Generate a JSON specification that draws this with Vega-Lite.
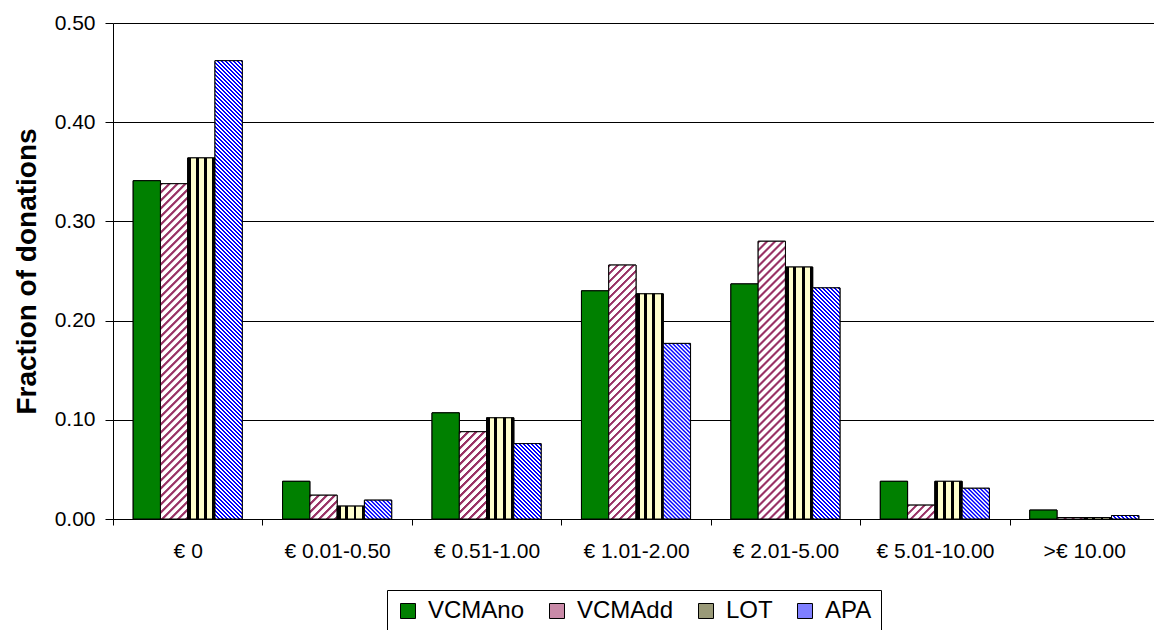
{
"$schema":"https://vega.github.io/schema/vega-lite/v6.json",
"width":1041,"height":496,
"autosize":{"type":"none"},
"padding":{"left":113,"top":23,"right":0,"bottom":111},
"background":"#ffffff",
"params":[
{"name":"lotStops","value":[{"offset":0,"color":"#000"},{"offset":0.13,"color":"#000"},{"offset":0.13,"color":"#ffc"},{"offset":0.29,"color":"#ffc"},{"offset":0.29,"color":"#000"},{"offset":0.4,"color":"#000"},{"offset":0.4,"color":"#ffc"},{"offset":0.6,"color":"#ffc"},{"offset":0.6,"color":"#000"},{"offset":0.7,"color":"#000"},{"offset":0.7,"color":"#ffc"},{"offset":0.9,"color":"#ffc"},{"offset":0.9,"color":"#000"},{"offset":1,"color":"#000"}]},
{"name":"vcmStops","value":[
{"offset":0,"color":"#936"},{"offset":0.005,"color":"#936"},{"offset":0.008,"color":"#fff"},{"offset":0.018,"color":"#fff"},
{"offset":0.02,"color":"#936"},{"offset":0.025,"color":"#936"},{"offset":0.028,"color":"#fff"},{"offset":0.038,"color":"#fff"},
{"offset":0.04,"color":"#936"},{"offset":0.045,"color":"#936"},{"offset":0.048,"color":"#fff"},{"offset":0.058,"color":"#fff"},
{"offset":0.06,"color":"#936"},{"offset":0.065,"color":"#936"},{"offset":0.068,"color":"#fff"},{"offset":0.078,"color":"#fff"},
{"offset":0.08,"color":"#936"},{"offset":0.085,"color":"#936"},{"offset":0.088,"color":"#fff"},{"offset":0.098,"color":"#fff"},
{"offset":0.1,"color":"#936"},{"offset":0.105,"color":"#936"},{"offset":0.108,"color":"#fff"},{"offset":0.118,"color":"#fff"},
{"offset":0.12,"color":"#936"},{"offset":0.125,"color":"#936"},{"offset":0.128,"color":"#fff"},{"offset":0.138,"color":"#fff"},
{"offset":0.14,"color":"#936"},{"offset":0.145,"color":"#936"},{"offset":0.148,"color":"#fff"},{"offset":0.158,"color":"#fff"},
{"offset":0.16,"color":"#936"},{"offset":0.165,"color":"#936"},{"offset":0.168,"color":"#fff"},{"offset":0.178,"color":"#fff"},
{"offset":0.18,"color":"#936"},{"offset":0.185,"color":"#936"},{"offset":0.188,"color":"#fff"},{"offset":0.198,"color":"#fff"},
{"offset":0.2,"color":"#936"},{"offset":0.205,"color":"#936"},{"offset":0.208,"color":"#fff"},{"offset":0.218,"color":"#fff"},
{"offset":0.22,"color":"#936"},{"offset":0.225,"color":"#936"},{"offset":0.228,"color":"#fff"},{"offset":0.238,"color":"#fff"},
{"offset":0.24,"color":"#936"},{"offset":0.245,"color":"#936"},{"offset":0.248,"color":"#fff"},{"offset":0.258,"color":"#fff"},
{"offset":0.26,"color":"#936"},{"offset":0.265,"color":"#936"},{"offset":0.268,"color":"#fff"},{"offset":0.278,"color":"#fff"},
{"offset":0.28,"color":"#936"},{"offset":0.285,"color":"#936"},{"offset":0.288,"color":"#fff"},{"offset":0.298,"color":"#fff"},
{"offset":0.3,"color":"#936"},{"offset":0.305,"color":"#936"},{"offset":0.308,"color":"#fff"},{"offset":0.318,"color":"#fff"},
{"offset":0.32,"color":"#936"},{"offset":0.325,"color":"#936"},{"offset":0.328,"color":"#fff"},{"offset":0.338,"color":"#fff"},
{"offset":0.34,"color":"#936"},{"offset":0.345,"color":"#936"},{"offset":0.348,"color":"#fff"},{"offset":0.358,"color":"#fff"},
{"offset":0.36,"color":"#936"},{"offset":0.365,"color":"#936"},{"offset":0.368,"color":"#fff"},{"offset":0.378,"color":"#fff"},
{"offset":0.38,"color":"#936"},{"offset":0.385,"color":"#936"},{"offset":0.388,"color":"#fff"},{"offset":0.398,"color":"#fff"},
{"offset":0.4,"color":"#936"},{"offset":0.405,"color":"#936"},{"offset":0.408,"color":"#fff"},{"offset":0.418,"color":"#fff"},
{"offset":0.42,"color":"#936"},{"offset":0.425,"color":"#936"},{"offset":0.428,"color":"#fff"},{"offset":0.438,"color":"#fff"},
{"offset":0.44,"color":"#936"},{"offset":0.445,"color":"#936"},{"offset":0.448,"color":"#fff"},{"offset":0.458,"color":"#fff"},
{"offset":0.46,"color":"#936"},{"offset":0.465,"color":"#936"},{"offset":0.468,"color":"#fff"},{"offset":0.478,"color":"#fff"},
{"offset":0.48,"color":"#936"},{"offset":0.485,"color":"#936"},{"offset":0.488,"color":"#fff"},{"offset":0.498,"color":"#fff"},
{"offset":0.5,"color":"#936"},{"offset":0.505,"color":"#936"},{"offset":0.508,"color":"#fff"},{"offset":0.518,"color":"#fff"},
{"offset":0.52,"color":"#936"},{"offset":0.525,"color":"#936"},{"offset":0.528,"color":"#fff"},{"offset":0.538,"color":"#fff"},
{"offset":0.54,"color":"#936"},{"offset":0.545,"color":"#936"},{"offset":0.548,"color":"#fff"},{"offset":0.558,"color":"#fff"},
{"offset":0.56,"color":"#936"},{"offset":0.565,"color":"#936"},{"offset":0.568,"color":"#fff"},{"offset":0.578,"color":"#fff"},
{"offset":0.58,"color":"#936"},{"offset":0.585,"color":"#936"},{"offset":0.588,"color":"#fff"},{"offset":0.598,"color":"#fff"},
{"offset":0.6,"color":"#936"},{"offset":0.605,"color":"#936"},{"offset":0.608,"color":"#fff"},{"offset":0.618,"color":"#fff"},
{"offset":0.62,"color":"#936"},{"offset":0.625,"color":"#936"},{"offset":0.628,"color":"#fff"},{"offset":0.638,"color":"#fff"},
{"offset":0.64,"color":"#936"},{"offset":0.645,"color":"#936"},{"offset":0.648,"color":"#fff"},{"offset":0.658,"color":"#fff"},
{"offset":0.66,"color":"#936"},{"offset":0.665,"color":"#936"},{"offset":0.668,"color":"#fff"},{"offset":0.678,"color":"#fff"},
{"offset":0.68,"color":"#936"},{"offset":0.685,"color":"#936"},{"offset":0.688,"color":"#fff"},{"offset":0.698,"color":"#fff"},
{"offset":0.7,"color":"#936"},{"offset":0.705,"color":"#936"},{"offset":0.708,"color":"#fff"},{"offset":0.718,"color":"#fff"},
{"offset":0.72,"color":"#936"},{"offset":0.725,"color":"#936"},{"offset":0.728,"color":"#fff"},{"offset":0.738,"color":"#fff"},
{"offset":0.74,"color":"#936"},{"offset":0.745,"color":"#936"},{"offset":0.748,"color":"#fff"},{"offset":0.758,"color":"#fff"},
{"offset":0.76,"color":"#936"},{"offset":0.765,"color":"#936"},{"offset":0.768,"color":"#fff"},{"offset":0.778,"color":"#fff"},
{"offset":0.78,"color":"#936"},{"offset":0.785,"color":"#936"},{"offset":0.788,"color":"#fff"},{"offset":0.798,"color":"#fff"},
{"offset":0.8,"color":"#936"},{"offset":0.805,"color":"#936"},{"offset":0.808,"color":"#fff"},{"offset":0.818,"color":"#fff"},
{"offset":0.82,"color":"#936"},{"offset":0.825,"color":"#936"},{"offset":0.828,"color":"#fff"},{"offset":0.838,"color":"#fff"},
{"offset":0.84,"color":"#936"},{"offset":0.845,"color":"#936"},{"offset":0.848,"color":"#fff"},{"offset":0.858,"color":"#fff"},
{"offset":0.86,"color":"#936"},{"offset":0.865,"color":"#936"},{"offset":0.868,"color":"#fff"},{"offset":0.878,"color":"#fff"},
{"offset":0.88,"color":"#936"},{"offset":0.885,"color":"#936"},{"offset":0.888,"color":"#fff"},{"offset":0.898,"color":"#fff"},
{"offset":0.9,"color":"#936"},{"offset":0.905,"color":"#936"},{"offset":0.908,"color":"#fff"},{"offset":0.918,"color":"#fff"},
{"offset":0.92,"color":"#936"},{"offset":0.925,"color":"#936"},{"offset":0.928,"color":"#fff"},{"offset":0.938,"color":"#fff"},
{"offset":0.94,"color":"#936"}
]},
{"name":"apaStops","value":[
{"offset":0,"color":"#00f"},{"offset":0.003,"color":"#00f"},{"offset":0.004,"color":"#fff"},{"offset":0.007,"color":"#fff"},{"offset":0.008,"color":"#00f"},{"offset":0.011,"color":"#00f"},{"offset":0.012,"color":"#fff"},{"offset":0.015,"color":"#fff"},{"offset":0.016,"color":"#00f"},{"offset":0.019,"color":"#00f"},{"offset":0.02,"color":"#fff"},{"offset":0.023,"color":"#fff"},{"offset":0.024,"color":"#00f"},{"offset":0.027,"color":"#00f"},{"offset":0.028,"color":"#fff"},{"offset":0.031,"color":"#fff"},{"offset":0.032,"color":"#00f"},{"offset":0.035,"color":"#00f"},{"offset":0.036,"color":"#fff"},{"offset":0.039,"color":"#fff"},
{"offset":0.04,"color":"#00f"},{"offset":0.043,"color":"#00f"},{"offset":0.044,"color":"#fff"},{"offset":0.047,"color":"#fff"},{"offset":0.048,"color":"#00f"},{"offset":0.051,"color":"#00f"},{"offset":0.052,"color":"#fff"},{"offset":0.055,"color":"#fff"},{"offset":0.056,"color":"#00f"},{"offset":0.059,"color":"#00f"},{"offset":0.06,"color":"#fff"},{"offset":0.063,"color":"#fff"},{"offset":0.064,"color":"#00f"},{"offset":0.067,"color":"#00f"},{"offset":0.068,"color":"#fff"},{"offset":0.071,"color":"#fff"},{"offset":0.072,"color":"#00f"},{"offset":0.075,"color":"#00f"},{"offset":0.076,"color":"#fff"},{"offset":0.079,"color":"#fff"},
{"offset":0.08,"color":"#00f"},{"offset":0.083,"color":"#00f"},{"offset":0.084,"color":"#fff"},{"offset":0.087,"color":"#fff"},{"offset":0.088,"color":"#00f"},{"offset":0.091,"color":"#00f"},{"offset":0.092,"color":"#fff"},{"offset":0.095,"color":"#fff"},{"offset":0.096,"color":"#00f"},{"offset":0.099,"color":"#00f"},{"offset":0.1,"color":"#fff"},{"offset":0.103,"color":"#fff"},{"offset":0.104,"color":"#00f"},{"offset":0.107,"color":"#00f"},{"offset":0.108,"color":"#fff"},{"offset":0.111,"color":"#fff"},{"offset":0.112,"color":"#00f"},{"offset":0.115,"color":"#00f"},{"offset":0.116,"color":"#fff"},{"offset":0.119,"color":"#fff"},
{"offset":0.12,"color":"#00f"},{"offset":0.123,"color":"#00f"},{"offset":0.124,"color":"#fff"},{"offset":0.127,"color":"#fff"},{"offset":0.128,"color":"#00f"},{"offset":0.131,"color":"#00f"},{"offset":0.132,"color":"#fff"},{"offset":0.135,"color":"#fff"},{"offset":0.136,"color":"#00f"},{"offset":0.139,"color":"#00f"},{"offset":0.14,"color":"#fff"},{"offset":0.143,"color":"#fff"},{"offset":0.144,"color":"#00f"},{"offset":0.147,"color":"#00f"},{"offset":0.148,"color":"#fff"},{"offset":0.151,"color":"#fff"},{"offset":0.152,"color":"#00f"},{"offset":0.155,"color":"#00f"},{"offset":0.156,"color":"#fff"},{"offset":0.159,"color":"#fff"},
{"offset":0.16,"color":"#00f"},{"offset":0.163,"color":"#00f"},{"offset":0.164,"color":"#fff"},{"offset":0.167,"color":"#fff"},{"offset":0.168,"color":"#00f"},{"offset":0.171,"color":"#00f"},{"offset":0.172,"color":"#fff"},{"offset":0.175,"color":"#fff"},{"offset":0.176,"color":"#00f"},{"offset":0.179,"color":"#00f"},{"offset":0.18,"color":"#fff"},{"offset":0.183,"color":"#fff"},{"offset":0.184,"color":"#00f"},{"offset":0.187,"color":"#00f"},{"offset":0.188,"color":"#fff"},{"offset":0.191,"color":"#fff"},{"offset":0.192,"color":"#00f"},{"offset":0.195,"color":"#00f"},{"offset":0.196,"color":"#fff"},{"offset":0.199,"color":"#fff"},
{"offset":0.2,"color":"#00f"},{"offset":0.203,"color":"#00f"},{"offset":0.204,"color":"#fff"},{"offset":0.207,"color":"#fff"},{"offset":0.208,"color":"#00f"},{"offset":0.211,"color":"#00f"},{"offset":0.212,"color":"#fff"},{"offset":0.215,"color":"#fff"},{"offset":0.216,"color":"#00f"},{"offset":0.219,"color":"#00f"},{"offset":0.22,"color":"#fff"},{"offset":0.223,"color":"#fff"},{"offset":0.224,"color":"#00f"},{"offset":0.227,"color":"#00f"},{"offset":0.228,"color":"#fff"},{"offset":0.231,"color":"#fff"},{"offset":0.232,"color":"#00f"},{"offset":0.235,"color":"#00f"},{"offset":0.236,"color":"#fff"},{"offset":0.239,"color":"#fff"},
{"offset":0.24,"color":"#00f"},{"offset":0.243,"color":"#00f"},{"offset":0.244,"color":"#fff"},{"offset":0.247,"color":"#fff"},{"offset":0.248,"color":"#00f"},{"offset":0.251,"color":"#00f"},{"offset":0.252,"color":"#fff"},{"offset":0.255,"color":"#fff"},{"offset":0.256,"color":"#00f"},{"offset":0.259,"color":"#00f"},{"offset":0.26,"color":"#fff"},{"offset":0.263,"color":"#fff"},{"offset":0.264,"color":"#00f"},{"offset":0.267,"color":"#00f"},{"offset":0.268,"color":"#fff"},{"offset":0.271,"color":"#fff"},{"offset":0.272,"color":"#00f"},{"offset":0.275,"color":"#00f"},{"offset":0.276,"color":"#fff"},{"offset":0.279,"color":"#fff"},
{"offset":0.28,"color":"#00f"},{"offset":0.283,"color":"#00f"},{"offset":0.284,"color":"#fff"},{"offset":0.287,"color":"#fff"},{"offset":0.288,"color":"#00f"},{"offset":0.291,"color":"#00f"},{"offset":0.292,"color":"#fff"},{"offset":0.295,"color":"#fff"},{"offset":0.296,"color":"#00f"},{"offset":0.299,"color":"#00f"},{"offset":0.3,"color":"#fff"},{"offset":0.303,"color":"#fff"},{"offset":0.304,"color":"#00f"},{"offset":0.307,"color":"#00f"},{"offset":0.308,"color":"#fff"},{"offset":0.311,"color":"#fff"},{"offset":0.312,"color":"#00f"},{"offset":0.315,"color":"#00f"},{"offset":0.316,"color":"#fff"},{"offset":0.319,"color":"#fff"},
{"offset":0.32,"color":"#00f"},{"offset":0.323,"color":"#00f"},{"offset":0.324,"color":"#fff"},{"offset":0.327,"color":"#fff"},{"offset":0.328,"color":"#00f"},{"offset":0.331,"color":"#00f"},{"offset":0.332,"color":"#fff"},{"offset":0.335,"color":"#fff"},{"offset":0.336,"color":"#00f"},{"offset":0.339,"color":"#00f"},{"offset":0.34,"color":"#fff"},{"offset":0.343,"color":"#fff"},{"offset":0.344,"color":"#00f"},{"offset":0.347,"color":"#00f"},{"offset":0.348,"color":"#fff"},{"offset":0.351,"color":"#fff"},{"offset":0.352,"color":"#00f"},{"offset":0.355,"color":"#00f"},{"offset":0.356,"color":"#fff"},{"offset":0.359,"color":"#fff"},
{"offset":0.36,"color":"#00f"},{"offset":0.363,"color":"#00f"},{"offset":0.364,"color":"#fff"},{"offset":0.367,"color":"#fff"},{"offset":0.368,"color":"#00f"},{"offset":0.371,"color":"#00f"},{"offset":0.372,"color":"#fff"},{"offset":0.375,"color":"#fff"},{"offset":0.376,"color":"#00f"},{"offset":0.379,"color":"#00f"},{"offset":0.38,"color":"#fff"},{"offset":0.383,"color":"#fff"},{"offset":0.384,"color":"#00f"},{"offset":0.387,"color":"#00f"},{"offset":0.388,"color":"#fff"},{"offset":0.391,"color":"#fff"},{"offset":0.392,"color":"#00f"},{"offset":0.395,"color":"#00f"},{"offset":0.396,"color":"#fff"},{"offset":0.399,"color":"#fff"},
{"offset":0.4,"color":"#00f"},{"offset":0.403,"color":"#00f"},{"offset":0.404,"color":"#fff"},{"offset":0.407,"color":"#fff"},{"offset":0.408,"color":"#00f"},{"offset":0.411,"color":"#00f"},{"offset":0.412,"color":"#fff"},{"offset":0.415,"color":"#fff"},{"offset":0.416,"color":"#00f"},{"offset":0.419,"color":"#00f"},{"offset":0.42,"color":"#fff"},{"offset":0.423,"color":"#fff"},{"offset":0.424,"color":"#00f"},{"offset":0.427,"color":"#00f"},{"offset":0.428,"color":"#fff"},{"offset":0.431,"color":"#fff"},{"offset":0.432,"color":"#00f"},{"offset":0.435,"color":"#00f"},{"offset":0.436,"color":"#fff"},{"offset":0.439,"color":"#fff"},
{"offset":0.44,"color":"#00f"},{"offset":0.443,"color":"#00f"},{"offset":0.444,"color":"#fff"},{"offset":0.447,"color":"#fff"},{"offset":0.448,"color":"#00f"},{"offset":0.451,"color":"#00f"},{"offset":0.452,"color":"#fff"},{"offset":0.455,"color":"#fff"},{"offset":0.456,"color":"#00f"},{"offset":0.459,"color":"#00f"},{"offset":0.46,"color":"#fff"},{"offset":0.463,"color":"#fff"},{"offset":0.464,"color":"#00f"},{"offset":0.467,"color":"#00f"},{"offset":0.468,"color":"#fff"},{"offset":0.471,"color":"#fff"},{"offset":0.472,"color":"#00f"},{"offset":0.475,"color":"#00f"},{"offset":0.476,"color":"#fff"},{"offset":0.479,"color":"#fff"},
{"offset":0.48,"color":"#00f"},{"offset":0.483,"color":"#00f"},{"offset":0.484,"color":"#fff"},{"offset":0.487,"color":"#fff"},{"offset":0.488,"color":"#00f"},{"offset":0.491,"color":"#00f"},{"offset":0.492,"color":"#fff"},{"offset":0.495,"color":"#fff"},{"offset":0.496,"color":"#00f"},{"offset":0.499,"color":"#00f"},{"offset":0.5,"color":"#fff"},{"offset":0.503,"color":"#fff"},{"offset":0.504,"color":"#00f"},{"offset":0.507,"color":"#00f"},{"offset":0.508,"color":"#fff"},{"offset":0.511,"color":"#fff"},{"offset":0.512,"color":"#00f"},{"offset":0.515,"color":"#00f"},{"offset":0.516,"color":"#fff"},{"offset":0.519,"color":"#fff"},
{"offset":0.52,"color":"#00f"},{"offset":0.523,"color":"#00f"},{"offset":0.524,"color":"#fff"},{"offset":0.527,"color":"#fff"},{"offset":0.528,"color":"#00f"},{"offset":0.531,"color":"#00f"},{"offset":0.532,"color":"#fff"},{"offset":0.535,"color":"#fff"},{"offset":0.536,"color":"#00f"},{"offset":0.539,"color":"#00f"},{"offset":0.54,"color":"#fff"},{"offset":0.543,"color":"#fff"},{"offset":0.544,"color":"#00f"},{"offset":0.547,"color":"#00f"},{"offset":0.548,"color":"#fff"},{"offset":0.551,"color":"#fff"},{"offset":0.552,"color":"#00f"},{"offset":0.555,"color":"#00f"},{"offset":0.556,"color":"#fff"},{"offset":0.559,"color":"#fff"},
{"offset":0.56,"color":"#00f"},{"offset":0.563,"color":"#00f"},{"offset":0.564,"color":"#fff"},{"offset":0.567,"color":"#fff"},{"offset":0.568,"color":"#00f"},{"offset":0.571,"color":"#00f"},{"offset":0.572,"color":"#fff"},{"offset":0.575,"color":"#fff"},{"offset":0.576,"color":"#00f"},{"offset":0.579,"color":"#00f"},{"offset":0.58,"color":"#fff"},{"offset":0.583,"color":"#fff"},{"offset":0.584,"color":"#00f"},{"offset":0.587,"color":"#00f"},{"offset":0.588,"color":"#fff"},{"offset":0.591,"color":"#fff"},{"offset":0.592,"color":"#00f"},{"offset":0.595,"color":"#00f"},{"offset":0.596,"color":"#fff"},{"offset":0.599,"color":"#fff"},
{"offset":0.6,"color":"#00f"},{"offset":0.603,"color":"#00f"},{"offset":0.604,"color":"#fff"},{"offset":0.607,"color":"#fff"},{"offset":0.608,"color":"#00f"},{"offset":0.611,"color":"#00f"},{"offset":0.612,"color":"#fff"},{"offset":0.615,"color":"#fff"},{"offset":0.616,"color":"#00f"},{"offset":0.619,"color":"#00f"},{"offset":0.62,"color":"#fff"},{"offset":0.623,"color":"#fff"},{"offset":0.624,"color":"#00f"},{"offset":0.627,"color":"#00f"},{"offset":0.628,"color":"#fff"},{"offset":0.631,"color":"#fff"},{"offset":0.632,"color":"#00f"},{"offset":0.635,"color":"#00f"},{"offset":0.636,"color":"#fff"},{"offset":0.639,"color":"#fff"},
{"offset":0.64,"color":"#00f"},{"offset":0.643,"color":"#00f"},{"offset":0.644,"color":"#fff"},{"offset":0.647,"color":"#fff"},{"offset":0.648,"color":"#00f"},{"offset":0.651,"color":"#00f"},{"offset":0.652,"color":"#fff"},{"offset":0.655,"color":"#fff"},{"offset":0.656,"color":"#00f"},{"offset":0.659,"color":"#00f"},{"offset":0.66,"color":"#fff"},{"offset":0.663,"color":"#fff"},{"offset":0.664,"color":"#00f"},{"offset":0.667,"color":"#00f"},{"offset":0.668,"color":"#fff"},{"offset":0.671,"color":"#fff"},{"offset":0.672,"color":"#00f"},{"offset":0.675,"color":"#00f"},{"offset":0.676,"color":"#fff"},{"offset":0.679,"color":"#fff"},
{"offset":0.68,"color":"#00f"},{"offset":0.683,"color":"#00f"},{"offset":0.684,"color":"#fff"},{"offset":0.687,"color":"#fff"},{"offset":0.688,"color":"#00f"},{"offset":0.691,"color":"#00f"},{"offset":0.692,"color":"#fff"},{"offset":0.695,"color":"#fff"},{"offset":0.696,"color":"#00f"},{"offset":0.699,"color":"#00f"},{"offset":0.7,"color":"#fff"},{"offset":0.703,"color":"#fff"},{"offset":0.704,"color":"#00f"},{"offset":0.707,"color":"#00f"},{"offset":0.708,"color":"#fff"},{"offset":0.711,"color":"#fff"},{"offset":0.712,"color":"#00f"},{"offset":0.715,"color":"#00f"},{"offset":0.716,"color":"#fff"},{"offset":0.719,"color":"#fff"},
{"offset":0.72,"color":"#00f"},{"offset":0.723,"color":"#00f"},{"offset":0.724,"color":"#fff"},{"offset":0.727,"color":"#fff"},{"offset":0.728,"color":"#00f"},{"offset":0.731,"color":"#00f"},{"offset":0.732,"color":"#fff"},{"offset":0.735,"color":"#fff"},{"offset":0.736,"color":"#00f"},{"offset":0.739,"color":"#00f"},{"offset":0.74,"color":"#fff"},{"offset":0.743,"color":"#fff"},{"offset":0.744,"color":"#00f"},{"offset":0.747,"color":"#00f"},{"offset":0.748,"color":"#fff"},{"offset":0.751,"color":"#fff"},{"offset":0.752,"color":"#00f"},{"offset":0.755,"color":"#00f"},{"offset":0.756,"color":"#fff"},{"offset":0.759,"color":"#fff"},
{"offset":0.76,"color":"#00f"},{"offset":0.763,"color":"#00f"},{"offset":0.764,"color":"#fff"},{"offset":0.767,"color":"#fff"},{"offset":0.768,"color":"#00f"},{"offset":0.771,"color":"#00f"},{"offset":0.772,"color":"#fff"},{"offset":0.775,"color":"#fff"},{"offset":0.776,"color":"#00f"},{"offset":0.779,"color":"#00f"},{"offset":0.78,"color":"#fff"},{"offset":0.783,"color":"#fff"},{"offset":0.784,"color":"#00f"},{"offset":0.787,"color":"#00f"},{"offset":0.788,"color":"#fff"},{"offset":0.791,"color":"#fff"},{"offset":0.792,"color":"#00f"},{"offset":0.795,"color":"#00f"},{"offset":0.796,"color":"#fff"},{"offset":0.799,"color":"#fff"},
{"offset":0.8,"color":"#00f"},{"offset":0.803,"color":"#00f"},{"offset":0.804,"color":"#fff"},{"offset":0.807,"color":"#fff"},{"offset":0.808,"color":"#00f"},{"offset":0.811,"color":"#00f"},{"offset":0.812,"color":"#fff"},{"offset":0.815,"color":"#fff"},{"offset":0.816,"color":"#00f"},{"offset":0.819,"color":"#00f"},{"offset":0.82,"color":"#fff"},{"offset":0.823,"color":"#fff"},{"offset":0.824,"color":"#00f"},{"offset":0.827,"color":"#00f"},{"offset":0.828,"color":"#fff"},{"offset":0.831,"color":"#fff"},{"offset":0.832,"color":"#00f"},{"offset":0.835,"color":"#00f"},{"offset":0.836,"color":"#fff"},{"offset":0.839,"color":"#fff"},
{"offset":0.84,"color":"#00f"},{"offset":0.843,"color":"#00f"},{"offset":0.844,"color":"#fff"},{"offset":0.847,"color":"#fff"},{"offset":0.848,"color":"#00f"},{"offset":0.851,"color":"#00f"},{"offset":0.852,"color":"#fff"},{"offset":0.855,"color":"#fff"},{"offset":0.856,"color":"#00f"},{"offset":0.859,"color":"#00f"},{"offset":0.86,"color":"#fff"},{"offset":0.863,"color":"#fff"},{"offset":0.864,"color":"#00f"},{"offset":0.867,"color":"#00f"},{"offset":0.868,"color":"#fff"},{"offset":0.871,"color":"#fff"},{"offset":0.872,"color":"#00f"},{"offset":0.875,"color":"#00f"},{"offset":0.876,"color":"#fff"},{"offset":0.879,"color":"#fff"},
{"offset":0.88,"color":"#00f"},{"offset":0.883,"color":"#00f"},{"offset":0.884,"color":"#fff"},{"offset":0.887,"color":"#fff"},{"offset":0.888,"color":"#00f"},{"offset":0.891,"color":"#00f"},{"offset":0.892,"color":"#fff"},{"offset":0.895,"color":"#fff"},{"offset":0.896,"color":"#00f"},{"offset":0.899,"color":"#00f"},{"offset":0.9,"color":"#fff"},{"offset":0.903,"color":"#fff"},{"offset":0.904,"color":"#00f"},{"offset":0.907,"color":"#00f"},{"offset":0.908,"color":"#fff"},{"offset":0.911,"color":"#fff"},{"offset":0.912,"color":"#00f"},{"offset":0.915,"color":"#00f"},{"offset":0.916,"color":"#fff"},{"offset":0.919,"color":"#fff"},
{"offset":0.92,"color":"#00f"},{"offset":0.923,"color":"#00f"},{"offset":0.924,"color":"#fff"},{"offset":0.927,"color":"#fff"},{"offset":0.928,"color":"#00f"},{"offset":0.931,"color":"#00f"},{"offset":0.932,"color":"#fff"},{"offset":0.935,"color":"#fff"},{"offset":0.936,"color":"#00f"},{"offset":0.939,"color":"#00f"},{"offset":0.94,"color":"#fff"},{"offset":0.943,"color":"#fff"},{"offset":0.944,"color":"#00f"},{"offset":0.947,"color":"#00f"},{"offset":0.948,"color":"#fff"},{"offset":0.951,"color":"#fff"},{"offset":0.952,"color":"#00f"},{"offset":0.955,"color":"#00f"},{"offset":0.956,"color":"#fff"},{"offset":0.959,"color":"#fff"},
{"offset":0.96,"color":"#00f"},{"offset":0.963,"color":"#00f"},{"offset":0.964,"color":"#fff"},{"offset":0.967,"color":"#fff"},{"offset":0.968,"color":"#00f"},{"offset":0.971,"color":"#00f"},{"offset":0.972,"color":"#fff"},{"offset":0.975,"color":"#fff"},{"offset":0.976,"color":"#00f"},{"offset":0.979,"color":"#00f"},{"offset":0.98,"color":"#fff"},{"offset":0.983,"color":"#fff"},{"offset":0.984,"color":"#00f"},{"offset":0.987,"color":"#00f"},{"offset":0.988,"color":"#fff"},{"offset":0.991,"color":"#fff"},{"offset":0.992,"color":"#00f"},{"offset":0.995,"color":"#00f"},{"offset":0.996,"color":"#fff"},{"offset":0.999,"color":"#fff"}
]}
],
"data":{"values":[
{"bin":"€ 0","series":"VCMAno","value":0.341},
{"bin":"€ 0","series":"VCMAdd","value":0.338},
{"bin":"€ 0","series":"LOT","value":0.364},
{"bin":"€ 0","series":"APA","value":0.462},
{"bin":"€ 0.01-0.50","series":"VCMAno","value":0.038},
{"bin":"€ 0.01-0.50","series":"VCMAdd","value":0.024},
{"bin":"€ 0.01-0.50","series":"LOT","value":0.013},
{"bin":"€ 0.01-0.50","series":"APA","value":0.019},
{"bin":"€ 0.51-1.00","series":"VCMAno","value":0.107},
{"bin":"€ 0.51-1.00","series":"VCMAdd","value":0.088},
{"bin":"€ 0.51-1.00","series":"LOT","value":0.102},
{"bin":"€ 0.51-1.00","series":"APA","value":0.076},
{"bin":"€ 1.01-2.00","series":"VCMAno","value":0.230},
{"bin":"€ 1.01-2.00","series":"VCMAdd","value":0.256},
{"bin":"€ 1.01-2.00","series":"LOT","value":0.227},
{"bin":"€ 1.01-2.00","series":"APA","value":0.177},
{"bin":"€ 2.01-5.00","series":"VCMAno","value":0.237},
{"bin":"€ 2.01-5.00","series":"VCMAdd","value":0.280},
{"bin":"€ 2.01-5.00","series":"LOT","value":0.254},
{"bin":"€ 2.01-5.00","series":"APA","value":0.233},
{"bin":"€ 5.01-10.00","series":"VCMAno","value":0.038},
{"bin":"€ 5.01-10.00","series":"VCMAdd","value":0.014},
{"bin":"€ 5.01-10.00","series":"LOT","value":0.038},
{"bin":"€ 5.01-10.00","series":"APA","value":0.031},
{"bin":">€ 10.00","series":"VCMAno","value":0.009},
{"bin":">€ 10.00","series":"VCMAdd","value":0.0015},
{"bin":">€ 10.00","series":"LOT","value":0.0015},
{"bin":">€ 10.00","series":"APA","value":0.0035}
]},
"encoding":{
"x":{"field":"bin","type":"nominal","sort":["€ 0","€ 0.01-0.50","€ 0.51-1.00","€ 1.01-2.00","€ 2.01-5.00","€ 5.01-10.00",">€ 10.00"],
 "scale":{"range":[0,1046],"paddingInner":0.27,"paddingOuter":0.135},
 "axis":{"title":null,"bandPosition":0,"tickOffset":-20.2,"labelOffset":20.2,"tickSize":6,"tickColor":"#000","domainColor":"#000","labelFontSize":21,"labelColor":"#000","labelPadding":15,"labelAngle":0,"grid":false}},
"xOffset":{"field":"series","type":"nominal","sort":["VCMAno","VCMAdd","LOT","APA"],"scale":{"paddingInner":0,"paddingOuter":0}},
"y":{"field":"value","type":"quantitative","scale":{"domain":[0,0.5],"nice":false},
 "axis":{"title":"Fraction of donations","titleFontSize":28,"titleFontWeight":"bold","titleColor":"#000","titlePadding":13,"values":[0,0.1,0.2,0.3,0.4,0.5],"format":".2f","tickSize":8,"tickColor":"#000","domainColor":"#000","grid":true,"gridColor":"#000","gridOpacity":1,"labelFontSize":21,"labelColor":"#000","labelPadding":10}}
},
"layer":[
{"mark":{"type":"bar","stroke":"#000","strokeWidth":1},
 "encoding":{"color":{"field":"series","type":"nominal","sort":["VCMAno","VCMAdd","LOT","APA"],
  "scale":{"domain":["VCMAno","VCMAdd","LOT","APA"],"range":["#008000","#c98aa8","#9a9a78","#7f7fff"]},
  "legend":{"orient":"none","legendX":274,"legendY":567,"direction":"horizontal","title":null,"strokeColor":"#000","padding":9,"symbolType":"square","symbolSize":225,"symbolStrokeColor":"#000","symbolStrokeWidth":1,"labelFontSize":24,"labelOffset":8,"columnPadding":20,"labelColor":"#000","symbolOpacity":1}}}},
{"mark":{"type":"bar","stroke":"#000","strokeWidth":1,
 "fill":{"expr":"datum.series==='LOT' ? {gradient:'linear',x1:0,y1:0,x2:1,y2:0,stops:lotStops} : datum.series==='VCMAdd' ? {gradient:'linear',x1:0,y1:0,x2:400*bandwidth('xOffset')/(bandwidth('xOffset')*bandwidth('xOffset')+(scale('y',0)-scale('y',datum.value))*(scale('y',0)-scale('y',datum.value))),y2:400*(scale('y',0)-scale('y',datum.value))/(bandwidth('xOffset')*bandwidth('xOffset')+(scale('y',0)-scale('y',datum.value))*(scale('y',0)-scale('y',datum.value))),stops:vcmStops} : datum.series==='APA' ? {gradient:'linear',x1:0,y1:1,x2:500*bandwidth('xOffset')/(bandwidth('xOffset')*bandwidth('xOffset')+(scale('y',0)-scale('y',datum.value))*(scale('y',0)-scale('y',datum.value))),y2:1-500*(scale('y',0)-scale('y',datum.value))/(bandwidth('xOffset')*bandwidth('xOffset')+(scale('y',0)-scale('y',datum.value))*(scale('y',0)-scale('y',datum.value))),stops:apaStops} : '#008000'"}}}
],
"config":{"view":{"stroke":null},"font":"Liberation Sans","axis":{"labelFont":"Liberation Sans","titleFont":"Liberation Sans"},"legend":{"labelFont":"Liberation Sans"}}
}
